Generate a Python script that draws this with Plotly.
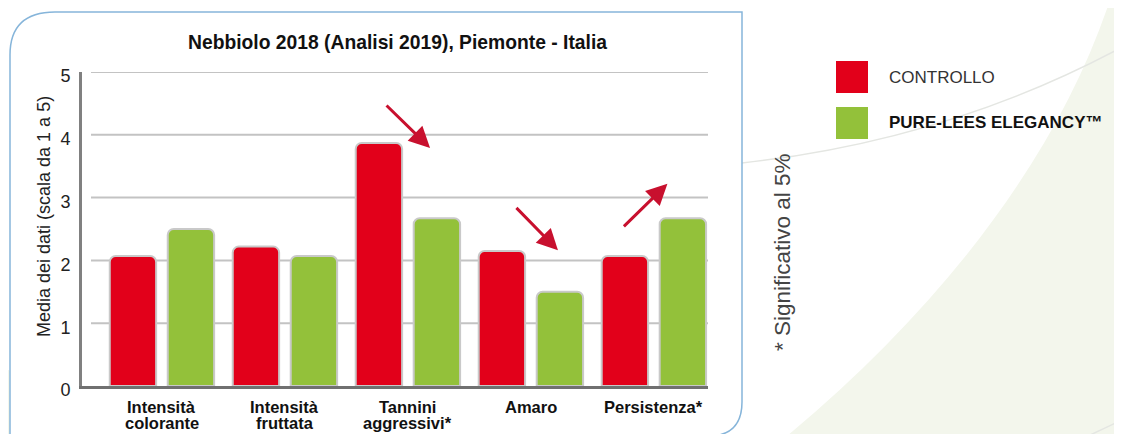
import plotly.graph_objects as go

categories = ["Intensità colorante", "Intensità fruttata", "Tannini aggressivi*", "Amaro", "Persistenza*"]
category_lines = [["Intensità", "colorante"], ["Intensità", "fruttata"], ["Tannini", "aggressivi*"], ["Amaro"], ["Persistenza*"]]
controllo = [2.07, 2.22, 3.87, 2.15, 2.07]
pure_lees = [2.5, 2.07, 2.67, 1.5, 2.67]
y_ticks = [0, 1, 2, 3, 4, 5]
series_names = ["CONTROLLO", "PURE-LEES ELEGANCY™"]

RED = "#e2001a"
GREEN = "#93c13a"
ARROW = "#c8102e"
FONT = "Liberation Sans, Arial, Helvetica, sans-serif"

OFF = 8  # page body margin of the browser
W, H = 1122 - OFF, 434 - OFF
# plot area in reference-picture pixels
L, R, T, B = 82, 708, 72, 386


def px(x):
    return (x - L) / (R - L)


def py(y):
    return (B - y) / (B - T)


def path(cmds):
    out = []
    for c in cmds:
        if isinstance(c, str):
            out.append(c)
        else:
            out.append(f"{px(c[0]):.5f},{py(c[1]):.5f}")
    return " ".join(out)


fig = go.Figure()
fig.add_trace(go.Bar(x=categories, y=controllo, name=series_names[0],
                     marker=dict(color=RED, line=dict(color="#c9c9c9", width=2), cornerradius=6)))
fig.add_trace(go.Bar(x=categories, y=pure_lees, name=series_names[1],
                     marker=dict(color=GREEN, line=dict(color="#c9c9c9", width=2), cornerradius=6)))

shapes = []
# background decorations
bg = "#f3f6ec"
shapes.append(dict(type="path", xref="paper", yref="paper", layer="below",
                   path=path(["M", (1110, 0), "C", (1060, 150), (950, 300), (787, 436), "L", (1124, 436), "L", (1124, 0), "Z"]),
                   fillcolor=bg, line=dict(width=0)))
shapes.append(dict(type="path", xref="paper", yref="paper", layer="below",
                   path=path(["M", (0, 360), "L", (12, 374), "L", (12, 436), "L", (0, 436), "Z"]),
                   fillcolor=bg, line=dict(width=0)))
shapes.append(dict(type="path", xref="paper", yref="paper", layer="below",
                   path=path(["M", (742, 163), "Q", (950, 140), (1124, 46)]),
                   line=dict(color="#e4e6e2", width=1.5)))
shapes.append(dict(type="path", xref="paper", yref="paper", layer="below",
                   path=path(["M", (1088, 436), "L", (1124, 419)]),
                   line=dict(color="#e4e6e2", width=1.5)))
# container
shapes.append(dict(type="path", xref="paper", yref="paper", layer="below",
                   path=path(["M", (10, 440), "L", (10, 55), "Q", (10, 12), (55, 12), "L", (742, 12),
                              "L", (742, 402), "Q", (742, 434), (712, 436)]),
                   fillcolor="white", line=dict(color="#86b5da", width=1.5)))
# gridlines
for v in y_ticks[1:]:
    shapes.append(dict(type="line", xref="paper", yref="y", layer="below",
                       x0=px(91), x1=1, y0=v, y1=v, line=dict(color="#c3c3c3", width=2)))
# legend squares
for i, col in enumerate([RED, GREEN]):
    y0 = 61 + i * 46
    shapes.append(dict(type="rect", xref="paper", yref="paper",
                       x0=px(836), x1=px(868), y0=py(y0), y1=py(y0 + 32),
                       fillcolor=col, line=dict(width=0)))


def note(text, x, y, size, color="#222", angle=0, xanchor="center"):
    return dict(text=text, xref="paper", yref="paper", x=px(x), y=py(y), textangle=angle,
                xanchor=xanchor, yanchor="middle", showarrow=False,
                font=dict(family=FONT, size=size, color=color))


annotations = [
    note("<b>Nebbiolo 2018 (Analisi 2019), Piemonte - Italia</b>", 397, 42, 19.3, "#111"),
    note("Media dei dati (scala da 1 a 5)", 44, 217, 18, "#222", angle=-90),
    note("* Significativo al 5%", 782, 252, 22.5, "#444", angle=-90),
    note(series_names[0], 887, 77, 17, "#333", xanchor="left"),
    note("<b>" + series_names[1] + "</b>", 887, 123, 17, "#111", xanchor="left"),
]
# category labels (one annotation per text line, anchored on the category axis)
for cat, lines in zip(categories, category_lines):
    for j, line in enumerate(lines):
        annotations.append(dict(text="<b>" + line + "</b>", x=cat, xref="x", yref="paper", y=py(407 + 16 * j),
                                xanchor="center", yanchor="middle", showarrow=False,
                                font=dict(family=FONT, size=16.5, color="#111")))
# significance arrows (tip in data coordinates, tail offset in pixels)
for ci, dx, yv, ax, ay in [(2, 0.18, 3.79, -45, -44), (3, 0.22, 2.16, -43, -44), (4, 0.11, 3.22, -45, 44)]:
    annotations.append(dict(x=ci + dx, y=yv, xref="x", yref="y", ax=ax, ay=ay, text="", showarrow=True,
                            arrowhead=2, arrowsize=1.4, arrowwidth=3, arrowcolor=ARROW))

fig.update_layout(
    width=W, height=H,
    margin=dict(l=L - OFF, r=W - (R - OFF), t=T - OFF, b=H - (B - OFF), autoexpand=False),
    paper_bgcolor="white", plot_bgcolor="rgba(0,0,0,0)",
    barmode="group", bargap=0.057, bargroupgap=0.2,
    showlegend=False,
    shapes=shapes, annotations=annotations,
    xaxis=dict(type="category", range=[-0.65, 4.44], showline=True, linecolor="#707070", linewidth=3,
               showgrid=False, ticks="", showticklabels=False, automargin=False),
    yaxis=dict(range=[0, 5], tickvals=y_ticks, showgrid=False, zeroline=False, showline=True,
               linecolor="#808080", linewidth=3, ticks="", ticklabelstandoff=5, ticklabelshift=4,
               automargin=False, tickfont=dict(family=FONT, size=18, color="#222")),
)

fig.write_html("out.html")
